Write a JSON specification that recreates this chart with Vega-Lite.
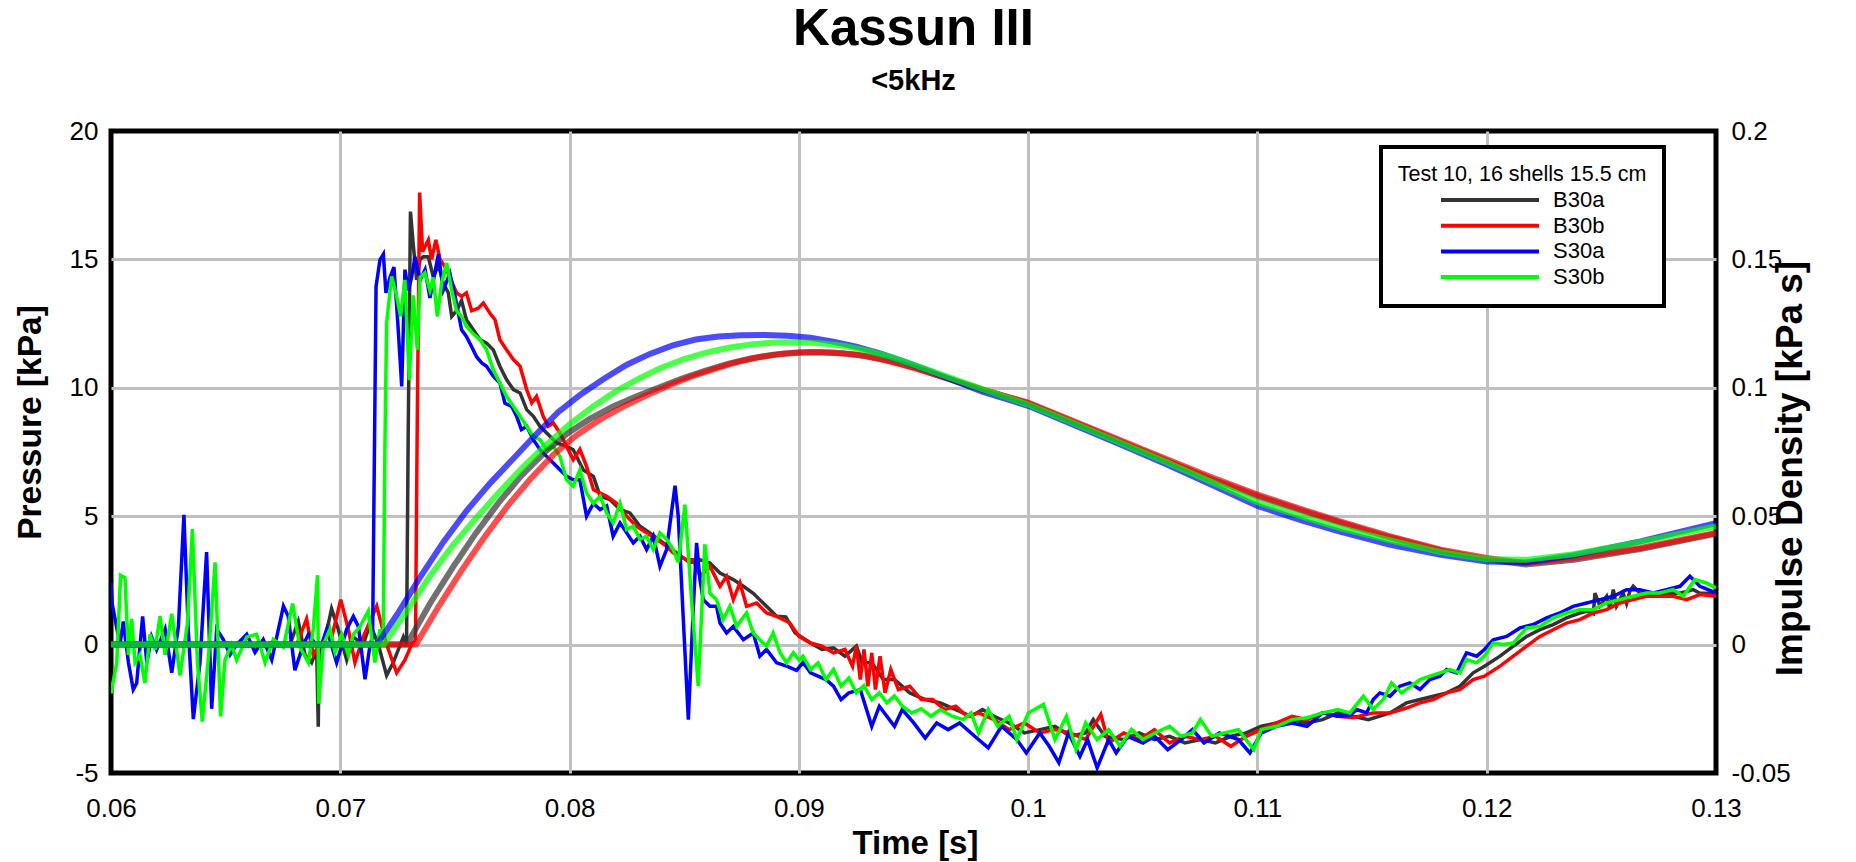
{
"$schema": "https://vega.github.io/schema/vega-lite/v6.json",
"width": 1605, "height": 642,
"autosize": {"type": "none"},
"padding": {"left": 111, "top": 131, "right": 140, "bottom": 89},
"background": "white",
"title": {"text": "Kassun III", "subtitle": "<5kHz", "anchor": "middle", "fontSize": 51, "fontWeight": "bold", "subtitleFontSize": 29, "subtitleFontWeight": "bold", "subtitlePadding": 11, "offset": 21, "color": "black", "subtitleColor": "black"},
"datasets": {
"pressure": [
{"s":"B30a","t":0.06,"p":0},{"s":"B30a","t":0.061,"p":0.05},{"s":"B30a","t":0.062,"p":-0.05},{"s":"B30a","t":0.063,"p":0.05},{"s":"B30a","t":0.064,"p":0},{"s":"B30a","t":0.065,"p":0.05},{"s":"B30a","t":0.066,"p":-0.05},{"s":"B30a","t":0.067,"p":0.05},{"s":"B30a","t":0.0678,"p":0},
{"s":"B30a","t":0.06817,"p":0.9},{"s":"B30a","t":0.06846,"p":-0.4},{"s":"B30a","t":0.06875,"p":-0.7},{"s":"B30a","t":0.06897,"p":-0.2},{"s":"B30a","t":0.06904,"p":-3.2},{"s":"B30a","t":0.06908,"p":-0.1},{"s":"B30a","t":0.06926,"p":-0.1},{"s":"B30a","t":0.06962,"p":1.4},{"s":"B30a","t":0.06991,"p":0.6},{"s":"B30a","t":0.07028,"p":-0.6},{"s":"B30a","t":0.07057,"p":0.3},{"s":"B30a","t":0.071,"p":0},{"s":"B30a","t":0.0713,"p":0.8},{"s":"B30a","t":0.07166,"p":0},{"s":"B30a","t":0.07202,"p":-1.2},{"s":"B30a","t":0.07231,"p":-0.7},{"s":"B30a","t":0.07275,"p":0.3},{"s":"B30a","t":0.07289,"p":0},
{"s":"B30a","t":0.07296,"p":8.0},{"s":"B30a","t":0.07306,"p":16.86},{"s":"B30a","t":0.07318,"p":15.6},{"s":"B30a","t":0.07333,"p":14.2},{"s":"B30a","t":0.07348,"p":15.0},{"s":"B30a","t":0.07362,"p":15.1},{"s":"B30a","t":0.07384,"p":15.1},{"s":"B30a","t":0.07406,"p":14.3},{"s":"B30a","t":0.07428,"p":14.8},{"s":"B30a","t":0.07449,"p":14.08},{"s":"B30a","t":0.07471,"p":13.7},{"s":"B30a","t":0.07486,"p":12.78},{"s":"B30a","t":0.07507,"p":13.0},{"s":"B30a","t":0.07529,"p":13.4},{"s":"B30a","t":0.0755,"p":12.65},{"s":"B30a","t":0.0758,"p":12.26},{"s":"B30a","t":0.0761,"p":11.87},{"s":"B30a","t":0.07638,"p":11.74},{"s":"B30a","t":0.07667,"p":11.48},{"s":"B30a","t":0.07696,"p":10.84},{"s":"B30a","t":0.07725,"p":10.32},{"s":"B30a","t":0.07755,"p":9.93},{"s":"B30a","t":0.07784,"p":9.8},{"s":"B30a","t":0.07813,"p":9.15},{"s":"B30a","t":0.07842,"p":8.89},{"s":"B30a","t":0.07871,"p":8.5},{"s":"B30a","t":0.079,"p":8.24},{"s":"B30a","t":0.07944,"p":7.85},{"s":"B30a","t":0.07987,"p":7.72},{"s":"B30a","t":0.08016,"p":7.59},{"s":"B30a","t":0.0806,"p":6.8},{"s":"B30a","t":0.08104,"p":6.55},{"s":"B30a","t":0.08133,"p":5.78},{"s":"B30a","t":0.08176,"p":5.65},{"s":"B30a","t":0.0822,"p":5.26},{"s":"B30a","t":0.08263,"p":5.13},{"s":"B30a","t":0.08307,"p":4.61},{"s":"B30a","t":0.0835,"p":4.35},{"s":"B30a","t":0.08409,"p":3.96},{"s":"B30a","t":0.08467,"p":3.57},{"s":"B30a","t":0.08525,"p":3.18},{"s":"B30a","t":0.08569,"p":3.3},{"s":"B30a","t":0.08612,"p":3.18},{"s":"B30a","t":0.08656,"p":2.79},{"s":"B30a","t":0.08714,"p":2.53},{"s":"B30a","t":0.08758,"p":2.27},{"s":"B30a","t":0.08801,"p":2.0},{"s":"B30a","t":0.08859,"p":1.49},{"s":"B30a","t":0.08903,"p":1.1},{"s":"B30a","t":0.08943,"p":1.08},{"s":"B30a","t":0.08984,"p":0.45},{"s":"B30a","t":0.09051,"p":0.06},{"s":"B30a","t":0.09101,"p":-0.19},{"s":"B30a","t":0.09151,"p":-0.13},{"s":"B30a","t":0.09201,"p":-0.45},{"s":"B30a","t":0.09251,"p":-0.06},{"s":"B30a","t":0.09276,"p":-0.71},{"s":"B30a","t":0.09318,"p":-0.71},{"s":"B30a","t":0.09368,"p":-1.36},{"s":"B30a","t":0.09417,"p":-1.36},{"s":"B30a","t":0.09484,"p":-1.88},{"s":"B30a","t":0.09551,"p":-2.14},{"s":"B30a","t":0.09617,"p":-2.27},{"s":"B30a","t":0.09684,"p":-2.53},{"s":"B30a","t":0.09751,"p":-2.79},{"s":"B30a","t":0.09801,"p":-2.53},{"s":"B30a","t":0.09851,"p":-2.79},{"s":"B30a","t":0.09917,"p":-3.05},{"s":"B30a","t":0.09984,"p":-3.44},{"s":"B30a","t":0.10051,"p":-3.31},{"s":"B30a","t":0.10117,"p":-3.18},{"s":"B30a","t":0.10184,"p":-3.57},{"s":"B30a","t":0.10251,"p":-3.44},{"s":"B30a","t":0.10284,"p":-2.92},{"s":"B30a","t":0.10334,"p":-3.57},{"s":"B30a","t":0.10417,"p":-3.7},{"s":"B30a","t":0.10484,"p":-3.44},{"s":"B30a","t":0.10551,"p":-3.7},{"s":"B30a","t":0.10617,"p":-3.57},{"s":"B30a","t":0.10684,"p":-3.83},{"s":"B30a","t":0.10751,"p":-3.7},{"s":"B30a","t":0.10817,"p":-3.83},{"s":"B30a","t":0.10884,"p":-3.57},{"s":"B30a","t":0.10951,"p":-3.44},{"s":"B30a","t":0.11017,"p":-3.18},{"s":"B30a","t":0.11084,"p":-3.05},{"s":"B30a","t":0.11151,"p":-2.92},{"s":"B30a","t":0.11217,"p":-3.05},{"s":"B30a","t":0.11284,"p":-2.92},{"s":"B30a","t":0.11351,"p":-2.66},{"s":"B30a","t":0.11417,"p":-2.79},{"s":"B30a","t":0.11484,"p":-2.92},{"s":"B30a","t":0.11578,"p":-2.66},{"s":"B30a","t":0.1165,"p":-2.27},{"s":"B30a","t":0.11709,"p":-2.14},{"s":"B30a","t":0.11767,"p":-2.01},{"s":"B30a","t":0.11825,"p":-1.88},{"s":"B30a","t":0.11883,"p":-1.62},{"s":"B30a","t":0.11941,"p":-1.1},{"s":"B30a","t":0.1199,"p":-0.84},{"s":"B30a","t":0.12058,"p":-0.45},{"s":"B30a","t":0.12116,"p":-0.06},{"s":"B30a","t":0.12174,"p":0.32},{"s":"B30a","t":0.12232,"p":0.58},{"s":"B30a","t":0.1229,"p":0.78},{"s":"B30a","t":0.12348,"p":1.04},{"s":"B30a","t":0.12406,"p":1.23},{"s":"B30a","t":0.12436,"p":1.3},{"s":"B30a","t":0.12465,"p":1.2},{"s":"B30a","t":0.12472,"p":2.0},{"s":"B30a","t":0.12494,"p":1.5},{"s":"B30a","t":0.12523,"p":1.88},{"s":"B30a","t":0.12537,"p":1.4},{"s":"B30a","t":0.12552,"p":2.14},{"s":"B30a","t":0.12566,"p":1.5},{"s":"B30a","t":0.12595,"p":2.0},{"s":"B30a","t":0.1261,"p":1.6},{"s":"B30a","t":0.12625,"p":2.1},{"s":"B30a","t":0.12639,"p":2.27},{"s":"B30a","t":0.12668,"p":2.01},{"s":"B30a","t":0.12726,"p":1.88},{"s":"B30a","t":0.12784,"p":2.01},{"s":"B30a","t":0.12843,"p":2.0},{"s":"B30a","t":0.12901,"p":2.14},{"s":"B30a","t":0.1293,"p":2.0},{"s":"B30a","t":0.13,"p":2.0},
{"s":"B30b","t":0.06,"p":0},{"s":"B30b","t":0.061,"p":-0.05},{"s":"B30b","t":0.062,"p":0.05},{"s":"B30b","t":0.063,"p":0},{"s":"B30b","t":0.064,"p":-0.05},{"s":"B30b","t":0.065,"p":0.05},{"s":"B30b","t":0.066,"p":0},{"s":"B30b","t":0.067,"p":-0.05},{"s":"B30b","t":0.0681,"p":0},{"s":"B30b","t":0.06853,"p":1.0},{"s":"B30b","t":0.06882,"p":-0.4},{"s":"B30b","t":0.06911,"p":0},{"s":"B30b","t":0.06955,"p":0},{"s":"B30b","t":0.07002,"p":1.75},{"s":"B30b","t":0.07035,"p":0.6},{"s":"B30b","t":0.07064,"p":-0.7},{"s":"B30b","t":0.071,"p":0.3},{"s":"B30b","t":0.07159,"p":1.5},{"s":"B30b","t":0.07202,"p":0},{"s":"B30b","t":0.07246,"p":-1.1},{"s":"B30b","t":0.07282,"p":-0.6},{"s":"B30b","t":0.07311,"p":0},{"s":"B30b","t":0.07328,"p":0.2},
{"s":"B30b","t":0.07336,"p":9.0},{"s":"B30b","t":0.07346,"p":17.6},{"s":"B30b","t":0.07359,"p":15.3},{"s":"B30b","t":0.07384,"p":15.76},{"s":"B30b","t":0.07398,"p":15.0},{"s":"B30b","t":0.07417,"p":15.76},{"s":"B30b","t":0.07435,"p":15.0},{"s":"B30b","t":0.07457,"p":14.7},{"s":"B30b","t":0.07478,"p":14.3},{"s":"B30b","t":0.07507,"p":13.7},{"s":"B30b","t":0.07529,"p":13.56},{"s":"B30b","t":0.0755,"p":13.7},{"s":"B30b","t":0.07573,"p":13.0},{"s":"B30b","t":0.07602,"p":13.1},{"s":"B30b","t":0.07624,"p":13.3},{"s":"B30b","t":0.07653,"p":12.9},{"s":"B30b","t":0.07675,"p":12.65},{"s":"B30b","t":0.07696,"p":11.87},{"s":"B30b","t":0.07725,"p":11.48},{"s":"B30b","t":0.07755,"p":11.1},{"s":"B30b","t":0.07784,"p":10.84},{"s":"B30b","t":0.07813,"p":9.93},{"s":"B30b","t":0.07835,"p":9.41},{"s":"B30b","t":0.07856,"p":9.67},{"s":"B30b","t":0.07885,"p":8.89},{"s":"B30b","t":0.07907,"p":8.5},{"s":"B30b","t":0.07929,"p":8.63},{"s":"B30b","t":0.07958,"p":8.24},{"s":"B30b","t":0.07987,"p":7.72},{"s":"B30b","t":0.08016,"p":7.2},{"s":"B30b","t":0.08045,"p":7.6},{"s":"B30b","t":0.08074,"p":6.94},{"s":"B30b","t":0.08104,"p":6.04},{"s":"B30b","t":0.08133,"p":5.9},{"s":"B30b","t":0.08162,"p":5.78},{"s":"B30b","t":0.08205,"p":5.5},{"s":"B30b","t":0.08249,"p":5.0},{"s":"B30b","t":0.08292,"p":4.6},{"s":"B30b","t":0.08336,"p":4.35},{"s":"B30b","t":0.0838,"p":4.1},{"s":"B30b","t":0.08423,"p":3.83},{"s":"B30b","t":0.08452,"p":3.57},{"s":"B30b","t":0.08511,"p":3.3},{"s":"B30b","t":0.0854,"p":3.3},{"s":"B30b","t":0.08569,"p":2.66},{"s":"B30b","t":0.08612,"p":3.05},{"s":"B30b","t":0.08656,"p":2.27},{"s":"B30b","t":0.08685,"p":2.66},{"s":"B30b","t":0.08714,"p":1.75},{"s":"B30b","t":0.08743,"p":2.4},{"s":"B30b","t":0.08772,"p":1.49},{"s":"B30b","t":0.08816,"p":1.62},{"s":"B30b","t":0.08859,"p":1.23},{"s":"B30b","t":0.08903,"p":1.1},{"s":"B30b","t":0.0896,"p":0.85},{"s":"B30b","t":0.09001,"p":0.32},{"s":"B30b","t":0.09051,"p":0.06},{"s":"B30b","t":0.09101,"p":-0.06},{"s":"B30b","t":0.09151,"p":-0.32},{"s":"B30b","t":0.09201,"p":-0.19},{"s":"B30b","t":0.09234,"p":-0.84},{"s":"B30b","t":0.09251,"p":-0.06},{"s":"B30b","t":0.09268,"p":-1.36},{"s":"B30b","t":0.09284,"p":-0.19},{"s":"B30b","t":0.09301,"p":-1.62},{"s":"B30b","t":0.09318,"p":-0.32},{"s":"B30b","t":0.09334,"p":-1.75},{"s":"B30b","t":0.09354,"p":-0.45},{"s":"B30b","t":0.09376,"p":-1.88},{"s":"B30b","t":0.09401,"p":-0.97},{"s":"B30b","t":0.09434,"p":-1.75},{"s":"B30b","t":0.09484,"p":-1.62},{"s":"B30b","t":0.09534,"p":-2.14},{"s":"B30b","t":0.09584,"p":-2.14},{"s":"B30b","t":0.09634,"p":-2.53},{"s":"B30b","t":0.09684,"p":-2.4},{"s":"B30b","t":0.09734,"p":-2.79},{"s":"B30b","t":0.09784,"p":-2.66},{"s":"B30b","t":0.09851,"p":-2.92},{"s":"B30b","t":0.09917,"p":-3.31},{"s":"B30b","t":0.09984,"p":-3.05},{"s":"B30b","t":0.10051,"p":-3.44},{"s":"B30b","t":0.10117,"p":-3.31},{"s":"B30b","t":0.10184,"p":-3.44},{"s":"B30b","t":0.10251,"p":-3.7},{"s":"B30b","t":0.10317,"p":-2.72},{"s":"B30b","t":0.10351,"p":-3.83},{"s":"B30b","t":0.10417,"p":-3.44},{"s":"B30b","t":0.10484,"p":-3.7},{"s":"B30b","t":0.10551,"p":-3.31},{"s":"B30b","t":0.10617,"p":-3.83},{"s":"B30b","t":0.10684,"p":-3.57},{"s":"B30b","t":0.10751,"p":-3.7},{"s":"B30b","t":0.10817,"p":-3.57},{"s":"B30b","t":0.10884,"p":-3.96},{"s":"B30b","t":0.10951,"p":-3.57},{"s":"B30b","t":0.11017,"p":-3.31},{"s":"B30b","t":0.11084,"p":-3.05},{"s":"B30b","t":0.11151,"p":-2.79},{"s":"B30b","t":0.11217,"p":-2.92},{"s":"B30b","t":0.11284,"p":-2.66},{"s":"B30b","t":0.11351,"p":-2.79},{"s":"B30b","t":0.11417,"p":-2.85},{"s":"B30b","t":0.11505,"p":-2.66},{"s":"B30b","t":0.11578,"p":-2.66},{"s":"B30b","t":0.1165,"p":-2.47},{"s":"B30b","t":0.11709,"p":-2.27},{"s":"B30b","t":0.11767,"p":-2.14},{"s":"B30b","t":0.11825,"p":-1.88},{"s":"B30b","t":0.11883,"p":-1.75},{"s":"B30b","t":0.11941,"p":-1.36},{"s":"B30b","t":0.1199,"p":-1.23},{"s":"B30b","t":0.12058,"p":-0.84},{"s":"B30b","t":0.12116,"p":-0.45},{"s":"B30b","t":0.12174,"p":-0.06},{"s":"B30b","t":0.12232,"p":0.32},{"s":"B30b","t":0.1229,"p":0.58},{"s":"B30b","t":0.12348,"p":0.84},{"s":"B30b","t":0.12406,"p":0.97},{"s":"B30b","t":0.12465,"p":1.23},{"s":"B30b","t":0.12523,"p":1.36},{"s":"B30b","t":0.12581,"p":1.62},{"s":"B30b","t":0.12639,"p":1.75},{"s":"B30b","t":0.12697,"p":1.88},{"s":"B30b","t":0.12755,"p":1.88},{"s":"B30b","t":0.12813,"p":1.88},{"s":"B30b","t":0.12872,"p":1.75},{"s":"B30b","t":0.1293,"p":1.95},{"s":"B30b","t":0.13,"p":1.88},
{"s":"S30a","t":0.06,"p":2.4},{"s":"S30a","t":0.06005,"p":1.6},{"s":"S30a","t":0.06039,"p":0},{"s":"S30a","t":0.06054,"p":0.9},{"s":"S30a","t":0.06076,"p":-0.7},{"s":"S30a","t":0.06097,"p":-1.75},{"s":"S30a","t":0.06112,"p":-1.5},{"s":"S30a","t":0.06138,"p":1.1},{"s":"S30a","t":0.06156,"p":-0.7},{"s":"S30a","t":0.06177,"p":0.3},{"s":"S30a","t":0.06199,"p":-0.2},{"s":"S30a","t":0.06236,"p":0.6},{"s":"S30a","t":0.06265,"p":-1.1},{"s":"S30a","t":0.06294,"p":0.7},{"s":"S30a","t":0.06318,"p":5.05},{"s":"S30a","t":0.06337,"p":0.6},{"s":"S30a","t":0.06359,"p":-2.9},{"s":"S30a","t":0.06388,"p":-0.7},{"s":"S30a","t":0.06417,"p":3.6},{"s":"S30a","t":0.06439,"p":-2.5},{"s":"S30a","t":0.06461,"p":0.6},{"s":"S30a","t":0.0649,"p":0.2},{"s":"S30a","t":0.06519,"p":-0.4},{"s":"S30a","t":0.06548,"p":0},{"s":"S30a","t":0.06592,"p":0.4},{"s":"S30a","t":0.06628,"p":-0.3},{"s":"S30a","t":0.06664,"p":0.2},{"s":"S30a","t":0.06701,"p":-0.6},{"s":"S30a","t":0.06752,"p":1.5},{"s":"S30a","t":0.06773,"p":1.1},{"s":"S30a","t":0.06802,"p":-1.0},{"s":"S30a","t":0.06839,"p":0},{"s":"S30a","t":0.06861,"p":0.4},{"s":"S30a","t":0.06911,"p":-0.2},{"s":"S30a","t":0.06941,"p":0.6},{"s":"S30a","t":0.06984,"p":-0.7},{"s":"S30a","t":0.07028,"p":0.6},{"s":"S30a","t":0.07057,"p":1.1},{"s":"S30a","t":0.07079,"p":0.7},{"s":"S30a","t":0.07108,"p":-1.35},{"s":"S30a","t":0.0713,"p":0},{"s":"S30a","t":0.07141,"p":0.3},
{"s":"S30a","t":0.07156,"p":13.94},{"s":"S30a","t":0.07173,"p":14.98},{"s":"S30a","t":0.07188,"p":15.2},{"s":"S30a","t":0.07199,"p":13.7},{"s":"S30a","t":0.07217,"p":14.3},{"s":"S30a","t":0.07234,"p":14.7},{"s":"S30a","t":0.0725,"p":12.65},{"s":"S30a","t":0.07268,"p":10.05},{"s":"S30a","t":0.07282,"p":14.6},{"s":"S30a","t":0.07297,"p":13.8},{"s":"S30a","t":0.07311,"p":14.3},{"s":"S30a","t":0.07326,"p":15.1},{"s":"S30a","t":0.07348,"p":14.2},{"s":"S30a","t":0.0737,"p":14.6},{"s":"S30a","t":0.07391,"p":13.5},{"s":"S30a","t":0.07428,"p":15.2},{"s":"S30a","t":0.07449,"p":13.8},{"s":"S30a","t":0.07478,"p":14.45},{"s":"S30a","t":0.075,"p":13.6},{"s":"S30a","t":0.07529,"p":12.26},{"s":"S30a","t":0.0755,"p":12.0},{"s":"S30a","t":0.07573,"p":11.6},{"s":"S30a","t":0.07595,"p":11.2},{"s":"S30a","t":0.07617,"p":10.97},{"s":"S30a","t":0.07638,"p":10.84},{"s":"S30a","t":0.07667,"p":10.45},{"s":"S30a","t":0.07696,"p":10.19},{"s":"S30a","t":0.07718,"p":9.4},{"s":"S30a","t":0.07747,"p":9.28},{"s":"S30a","t":0.07769,"p":8.89},{"s":"S30a","t":0.0779,"p":8.37},{"s":"S30a","t":0.07813,"p":8.5},{"s":"S30a","t":0.07842,"p":7.98},{"s":"S30a","t":0.07871,"p":7.59},{"s":"S30a","t":0.079,"p":7.33},{"s":"S30a","t":0.07929,"p":7.07},{"s":"S30a","t":0.07958,"p":6.81},{"s":"S30a","t":0.07987,"p":6.55},{"s":"S30a","t":0.08016,"p":6.42},{"s":"S30a","t":0.08045,"p":6.42},{"s":"S30a","t":0.08074,"p":5.0},{"s":"S30a","t":0.08104,"p":5.5},{"s":"S30a","t":0.08133,"p":5.26},{"s":"S30a","t":0.08162,"p":5.4},{"s":"S30a","t":0.0819,"p":4.22},{"s":"S30a","t":0.0822,"p":4.74},{"s":"S30a","t":0.08249,"p":4.35},{"s":"S30a","t":0.08278,"p":3.96},{"s":"S30a","t":0.08307,"p":4.22},{"s":"S30a","t":0.08336,"p":3.7},{"s":"S30a","t":0.08365,"p":4.22},{"s":"S30a","t":0.08394,"p":3.05},{"s":"S30a","t":0.08423,"p":3.7},{"s":"S30a","t":0.0846,"p":6.19},{"s":"S30a","t":0.08474,"p":5.0},{"s":"S30a","t":0.08496,"p":1.0},{"s":"S30a","t":0.08518,"p":-2.92},{"s":"S30a","t":0.0854,"p":1.5},{"s":"S30a","t":0.08554,"p":3.96},{"s":"S30a","t":0.08569,"p":2.5},{"s":"S30a","t":0.08583,"p":1.75},{"s":"S30a","t":0.08612,"p":1.49},{"s":"S30a","t":0.08641,"p":1.49},{"s":"S30a","t":0.08656,"p":0.84},{"s":"S30a","t":0.08685,"p":0.45},{"s":"S30a","t":0.08714,"p":0.71},{"s":"S30a","t":0.08758,"p":0.19},{"s":"S30a","t":0.08801,"p":0.45},{"s":"S30a","t":0.0883,"p":-0.45},{"s":"S30a","t":0.08859,"p":-0.19},{"s":"S30a","t":0.08903,"p":-0.71},{"s":"S30a","t":0.08947,"p":-0.84},{"s":"S30a","t":0.0899,"p":-1.0},{"s":"S30a","t":0.09018,"p":-0.7},{"s":"S30a","t":0.09051,"p":-1.1},{"s":"S30a","t":0.09118,"p":-1.36},{"s":"S30a","t":0.09151,"p":-1.62},{"s":"S30a","t":0.09184,"p":-2.14},{"s":"S30a","t":0.09218,"p":-1.88},{"s":"S30a","t":0.09268,"p":-1.75},{"s":"S30a","t":0.09318,"p":-3.18},{"s":"S30a","t":0.09351,"p":-2.4},{"s":"S30a","t":0.09417,"p":-3.18},{"s":"S30a","t":0.09451,"p":-2.53},{"s":"S30a","t":0.09501,"p":-3.05},{"s":"S30a","t":0.09551,"p":-3.64},{"s":"S30a","t":0.09601,"p":-3.05},{"s":"S30a","t":0.09651,"p":-3.31},{"s":"S30a","t":0.09701,"p":-3.05},{"s":"S30a","t":0.09767,"p":-3.57},{"s":"S30a","t":0.09826,"p":-4.02},{"s":"S30a","t":0.09884,"p":-3.18},{"s":"S30a","t":0.09951,"p":-3.7},{"s":"S30a","t":0.09992,"p":-4.22},{"s":"S30a","t":0.10051,"p":-3.44},{"s":"S30a","t":0.10092,"p":-3.96},{"s":"S30a","t":0.10134,"p":-4.6},{"s":"S30a","t":0.10176,"p":-3.44},{"s":"S30a","t":0.10226,"p":-4.35},{"s":"S30a","t":0.10259,"p":-3.7},{"s":"S30a","t":0.10301,"p":-4.8},{"s":"S30a","t":0.10351,"p":-3.7},{"s":"S30a","t":0.10384,"p":-4.22},{"s":"S30a","t":0.10434,"p":-3.57},{"s":"S30a","t":0.10501,"p":-3.83},{"s":"S30a","t":0.10551,"p":-3.57},{"s":"S30a","t":0.10609,"p":-4.09},{"s":"S30a","t":0.10667,"p":-3.7},{"s":"S30a","t":0.10717,"p":-3.31},{"s":"S30a","t":0.10767,"p":-3.83},{"s":"S30a","t":0.10834,"p":-3.44},{"s":"S30a","t":0.10917,"p":-3.7},{"s":"S30a","t":0.10967,"p":-4.22},{"s":"S30a","t":0.11017,"p":-3.44},{"s":"S30a","t":0.11084,"p":-3.18},{"s":"S30a","t":0.11151,"p":-3.05},{"s":"S30a","t":0.11217,"p":-3.18},{"s":"S30a","t":0.11284,"p":-2.66},{"s":"S30a","t":0.11351,"p":-2.79},{"s":"S30a","t":0.11403,"p":-2.75},{"s":"S30a","t":0.11433,"p":-2.53},{"s":"S30a","t":0.11476,"p":-2.66},{"s":"S30a","t":0.11505,"p":-2.14},{"s":"S30a","t":0.11534,"p":-1.88},{"s":"S30a","t":0.11578,"p":-2.01},{"s":"S30a","t":0.11621,"p":-1.62},{"s":"S30a","t":0.11665,"p":-1.49},{"s":"S30a","t":0.11709,"p":-1.75},{"s":"S30a","t":0.11752,"p":-1.36},{"s":"S30a","t":0.11796,"p":-1.23},{"s":"S30a","t":0.11825,"p":-0.97},{"s":"S30a","t":0.11869,"p":-1.1},{"s":"S30a","t":0.11912,"p":-0.32},{"s":"S30a","t":0.11956,"p":-0.45},{"s":"S30a","t":0.1199,"p":-0.19},{"s":"S30a","t":0.12028,"p":0.19},{"s":"S30a","t":0.12087,"p":0.32},{"s":"S30a","t":0.12145,"p":0.65},{"s":"S30a","t":0.12203,"p":0.78},{"s":"S30a","t":0.12261,"p":1.04},{"s":"S30a","t":0.12319,"p":1.23},{"s":"S30a","t":0.12377,"p":1.49},{"s":"S30a","t":0.12436,"p":1.62},{"s":"S30a","t":0.12494,"p":1.75},{"s":"S30a","t":0.12552,"p":1.88},{"s":"S30a","t":0.1261,"p":2.14},{"s":"S30a","t":0.12668,"p":2.14},{"s":"S30a","t":0.12726,"p":2.01},{"s":"S30a","t":0.12784,"p":2.14},{"s":"S30a","t":0.12843,"p":2.27},{"s":"S30a","t":0.12886,"p":2.66},{"s":"S30a","t":0.1293,"p":2.27},{"s":"S30a","t":0.13,"p":2.01},
{"s":"S30b","t":0.06,"p":-1.9},{"s":"S30b","t":0.06025,"p":-0.7},{"s":"S30b","t":0.06042,"p":2.7},{"s":"S30b","t":0.06061,"p":2.6},{"s":"S30b","t":0.06076,"p":-0.4},{"s":"S30b","t":0.0609,"p":1.0},{"s":"S30b","t":0.06105,"p":-0.7},{"s":"S30b","t":0.06126,"p":-0.4},{"s":"S30b","t":0.06148,"p":-1.5},{"s":"S30b","t":0.0617,"p":0.4},{"s":"S30b","t":0.06192,"p":-0.2},{"s":"S30b","t":0.06214,"p":1.1},{"s":"S30b","t":0.06236,"p":-0.4},{"s":"S30b","t":0.06265,"p":1.2},{"s":"S30b","t":0.06301,"p":-1.2},{"s":"S30b","t":0.06333,"p":0.8},{"s":"S30b","t":0.06355,"p":4.5},{"s":"S30b","t":0.06377,"p":-0.7},{"s":"S30b","t":0.06398,"p":-3.0},{"s":"S30b","t":0.06424,"p":-0.6},{"s":"S30b","t":0.06454,"p":3.2},{"s":"S30b","t":0.06478,"p":-2.8},{"s":"S30b","t":0.06497,"p":-0.6},{"s":"S30b","t":0.06526,"p":0},{"s":"S30b","t":0.06548,"p":-0.6},{"s":"S30b","t":0.06592,"p":0.3},{"s":"S30b","t":0.06635,"p":0.4},{"s":"S30b","t":0.06672,"p":-0.7},{"s":"S30b","t":0.06708,"p":0.2},{"s":"S30b","t":0.06752,"p":-0.1},{"s":"S30b","t":0.06792,"p":1.6},{"s":"S30b","t":0.06824,"p":-0.1},{"s":"S30b","t":0.06861,"p":-0.7},{"s":"S30b","t":0.06882,"p":0.6},{"s":"S30b","t":0.06901,"p":2.7},{"s":"S30b","t":0.06906,"p":-2.3},{"s":"S30b","t":0.06926,"p":0},{"s":"S30b","t":0.06955,"p":0.6},{"s":"S30b","t":0.06977,"p":-0.3},{"s":"S30b","t":0.07006,"p":0.4},{"s":"S30b","t":0.07035,"p":-0.4},{"s":"S30b","t":0.07057,"p":0.4},{"s":"S30b","t":0.07086,"p":0.7},{"s":"S30b","t":0.07122,"p":1.3},{"s":"S30b","t":0.07151,"p":-0.7},{"s":"S30b","t":0.07173,"p":0.6},{"s":"S30b","t":0.07187,"p":0.2},
{"s":"S30b","t":0.07195,"p":8.0},{"s":"S30b","t":0.07202,"p":12.5},{"s":"S30b","t":0.07224,"p":14.34},{"s":"S30b","t":0.07246,"p":13.56},{"s":"S30b","t":0.07263,"p":12.78},{"s":"S30b","t":0.07282,"p":14.2},{"s":"S30b","t":0.07301,"p":10.3},{"s":"S30b","t":0.07318,"p":13.6},{"s":"S30b","t":0.07336,"p":11.48},{"s":"S30b","t":0.07348,"p":14.3},{"s":"S30b","t":0.07369,"p":14.47},{"s":"S30b","t":0.07391,"p":13.8},{"s":"S30b","t":0.07406,"p":14.3},{"s":"S30b","t":0.07423,"p":12.78},{"s":"S30b","t":0.07442,"p":14.08},{"s":"S30b","t":0.07464,"p":14.86},{"s":"S30b","t":0.07486,"p":13.8},{"s":"S30b","t":0.07507,"p":13.0},{"s":"S30b","t":0.07529,"p":12.78},{"s":"S30b","t":0.0755,"p":12.4},{"s":"S30b","t":0.0758,"p":12.1},{"s":"S30b","t":0.0761,"p":11.87},{"s":"S30b","t":0.07638,"p":11.48},{"s":"S30b","t":0.07667,"p":10.7},{"s":"S30b","t":0.07696,"p":10.2},{"s":"S30b","t":0.07725,"p":9.67},{"s":"S30b","t":0.07755,"p":9.28},{"s":"S30b","t":0.07784,"p":8.89},{"s":"S30b","t":0.07813,"p":8.5},{"s":"S30b","t":0.07842,"p":8.1},{"s":"S30b","t":0.07871,"p":7.98},{"s":"S30b","t":0.079,"p":7.59},{"s":"S30b","t":0.07929,"p":7.72},{"s":"S30b","t":0.07958,"p":7.33},{"s":"S30b","t":0.07987,"p":6.42},{"s":"S30b","t":0.08016,"p":6.17},{"s":"S30b","t":0.08045,"p":6.8},{"s":"S30b","t":0.08074,"p":5.9},{"s":"S30b","t":0.08104,"p":5.5},{"s":"S30b","t":0.08133,"p":5.78},{"s":"S30b","t":0.08162,"p":5.13},{"s":"S30b","t":0.0819,"p":4.74},{"s":"S30b","t":0.0822,"p":5.5},{"s":"S30b","t":0.08249,"p":4.48},{"s":"S30b","t":0.08278,"p":4.61},{"s":"S30b","t":0.08307,"p":4.1},{"s":"S30b","t":0.08336,"p":4.22},{"s":"S30b","t":0.08365,"p":3.7},{"s":"S30b","t":0.08394,"p":4.35},{"s":"S30b","t":0.08423,"p":4.1},{"s":"S30b","t":0.08452,"p":3.7},{"s":"S30b","t":0.08474,"p":3.2},{"s":"S30b","t":0.08503,"p":5.45},{"s":"S30b","t":0.0853,"p":2.0},{"s":"S30b","t":0.08561,"p":-1.62},{"s":"S30b","t":0.0859,"p":3.9},{"s":"S30b","t":0.08612,"p":2.0},{"s":"S30b","t":0.08641,"p":1.75},{"s":"S30b","t":0.0867,"p":0.97},{"s":"S30b","t":0.08699,"p":1.49},{"s":"S30b","t":0.08729,"p":0.71},{"s":"S30b","t":0.08772,"p":1.23},{"s":"S30b","t":0.08801,"p":0.45},{"s":"S30b","t":0.0883,"p":0.19},{"s":"S30b","t":0.08859,"p":-0.06},{"s":"S30b","t":0.08888,"p":0.45},{"s":"S30b","t":0.08918,"p":-0.32},{"s":"S30b","t":0.08947,"p":-0.71},{"s":"S30b","t":0.08976,"p":-0.32},{"s":"S30b","t":0.09001,"p":-0.6},{"s":"S30b","t":0.09018,"p":-0.45},{"s":"S30b","t":0.09051,"p":-0.97},{"s":"S30b","t":0.09084,"p":-0.71},{"s":"S30b","t":0.09118,"p":-1.36},{"s":"S30b","t":0.09151,"p":-0.97},{"s":"S30b","t":0.09184,"p":-1.62},{"s":"S30b","t":0.09218,"p":-1.3},{"s":"S30b","t":0.09251,"p":-1.88},{"s":"S30b","t":0.09284,"p":-1.6},{"s":"S30b","t":0.09318,"p":-2.14},{"s":"S30b","t":0.09351,"p":-1.88},{"s":"S30b","t":0.09384,"p":-2.27},{"s":"S30b","t":0.09417,"p":-2.0},{"s":"S30b","t":0.09451,"p":-2.4},{"s":"S30b","t":0.09493,"p":-2.66},{"s":"S30b","t":0.09534,"p":-2.5},{"s":"S30b","t":0.09576,"p":-2.79},{"s":"S30b","t":0.09617,"p":-2.53},{"s":"S30b","t":0.09668,"p":-2.79},{"s":"S30b","t":0.09717,"p":-2.92},{"s":"S30b","t":0.09751,"p":-2.66},{"s":"S30b","t":0.09784,"p":-3.44},{"s":"S30b","t":0.09826,"p":-2.53},{"s":"S30b","t":0.09867,"p":-3.18},{"s":"S30b","t":0.09917,"p":-2.79},{"s":"S30b","t":0.09951,"p":-3.7},{"s":"S30b","t":0.10001,"p":-2.66},{"s":"S30b","t":0.10067,"p":-2.33},{"s":"S30b","t":0.10117,"p":-3.7},{"s":"S30b","t":0.10167,"p":-2.79},{"s":"S30b","t":0.10209,"p":-4.09},{"s":"S30b","t":0.10251,"p":-3.05},{"s":"S30b","t":0.10301,"p":-3.7},{"s":"S30b","t":0.10351,"p":-3.31},{"s":"S30b","t":0.10401,"p":-3.96},{"s":"S30b","t":0.10451,"p":-3.3},{"s":"S30b","t":0.10501,"p":-3.7},{"s":"S30b","t":0.10551,"p":-3.45},{"s":"S30b","t":0.10617,"p":-3.18},{"s":"S30b","t":0.10667,"p":-3.57},{"s":"S30b","t":0.10717,"p":-3.44},{"s":"S30b","t":0.10751,"p":-2.92},{"s":"S30b","t":0.10801,"p":-3.57},{"s":"S30b","t":0.10851,"p":-3.45},{"s":"S30b","t":0.10917,"p":-3.31},{"s":"S30b","t":0.10984,"p":-4.09},{"s":"S30b","t":0.11017,"p":-3.31},{"s":"S30b","t":0.11084,"p":-3.18},{"s":"S30b","t":0.11151,"p":-2.92},{"s":"S30b","t":0.11217,"p":-2.85},{"s":"S30b","t":0.11284,"p":-2.66},{"s":"S30b","t":0.11351,"p":-2.53},{"s":"S30b","t":0.11403,"p":-2.66},{"s":"S30b","t":0.11462,"p":-2.01},{"s":"S30b","t":0.11505,"p":-2.53},{"s":"S30b","t":0.11549,"p":-2.14},{"s":"S30b","t":0.11585,"p":-1.49},{"s":"S30b","t":0.11629,"p":-1.88},{"s":"S30b","t":0.11672,"p":-1.6},{"s":"S30b","t":0.11709,"p":-1.36},{"s":"S30b","t":0.11752,"p":-1.23},{"s":"S30b","t":0.11796,"p":-1.1},{"s":"S30b","t":0.11839,"p":-0.97},{"s":"S30b","t":0.11883,"p":-1.1},{"s":"S30b","t":0.11912,"p":-0.58},{"s":"S30b","t":0.11956,"p":-0.71},{"s":"S30b","t":0.1199,"p":-0.45},{"s":"S30b","t":0.12028,"p":0.06},{"s":"S30b","t":0.12072,"p":0},{"s":"S30b","t":0.12116,"p":0.06},{"s":"S30b","t":0.12174,"p":0.65},{"s":"S30b","t":0.12232,"p":0.71},{"s":"S30b","t":0.1229,"p":1.04},{"s":"S30b","t":0.12348,"p":1.23},{"s":"S30b","t":0.12406,"p":1.36},{"s":"S30b","t":0.12465,"p":1.36},{"s":"S30b","t":0.12523,"p":1.62},{"s":"S30b","t":0.12581,"p":1.75},{"s":"S30b","t":0.12639,"p":1.88},{"s":"S30b","t":0.12697,"p":2.01},{"s":"S30b","t":0.12755,"p":2.01},{"s":"S30b","t":0.12813,"p":2.14},{"s":"S30b","t":0.12857,"p":1.88},{"s":"S30b","t":0.12908,"p":2.53},{"s":"S30b","t":0.12959,"p":2.4},{"s":"S30b","t":0.13,"p":2.2}
],
"impulse": [
{"s":"B30a","t":0.06,"i":0},{"s":"B30a","t":0.0729,"i":0},{"s":"B30a","t":0.0739,"i":0.0158},{"s":"B30a","t":0.0749,"i":0.03},{"s":"B30a","t":0.0759,"i":0.0432},{"s":"B30a","t":0.0769,"i":0.0552},{"s":"B30a","t":0.0779,"i":0.0658},{"s":"B30a","t":0.0789,"i":0.0748},{"s":"B30a","t":0.0799,"i":0.0822},{"s":"B30a","t":0.0809,"i":0.088},{"s":"B30a","t":0.0819,"i":0.0927},{"s":"B30a","t":0.0829,"i":0.0966},{"s":"B30a","t":0.0839,"i":0.1001},{"s":"B30a","t":0.0849,"i":0.1036},{"s":"B30a","t":0.0859,"i":0.1066},{"s":"B30a","t":0.0869,"i":0.1093},{"s":"B30a","t":0.0879,"i":0.1114},{"s":"B30a","t":0.0889,"i":0.1129},{"s":"B30a","t":0.0899,"i":0.1137},{"s":"B30a","t":0.0909,"i":0.1138},{"s":"B30a","t":0.0919,"i":0.1134},{"s":"B30a","t":0.0929,"i":0.1124},{"s":"B30a","t":0.0939,"i":0.1106},{"s":"B30a","t":0.095,"i":0.108},{"s":"B30a","t":0.096,"i":0.105},{"s":"B30a","t":0.098,"i":0.0993},{"s":"B30a","t":0.1,"i":0.094},{"s":"B30a","t":0.102,"i":0.0866},{"s":"B30a","t":0.104,"i":0.0792},{"s":"B30a","t":0.106,"i":0.0718},{"s":"B30a","t":0.108,"i":0.0645},{"s":"B30a","t":0.11,"i":0.0578},{"s":"B30a","t":0.112,"i":0.052},{"s":"B30a","t":0.1136,"i":0.0475},{"s":"B30a","t":0.1158,"i":0.0417},{"s":"B30a","t":0.118,"i":0.0366},{"s":"B30a","t":0.12,"i":0.0332},{"s":"B30a","t":0.1217,"i":0.0312},{"s":"B30a","t":0.1238,"i":0.033},{"s":"B30a","t":0.1267,"i":0.0372},{"s":"B30a","t":0.13,"i":0.0432},
{"s":"B30b","t":0.06,"i":0},{"s":"B30b","t":0.0733,"i":0},{"s":"B30b","t":0.0743,"i":0.015},{"s":"B30b","t":0.0753,"i":0.029},{"s":"B30b","t":0.0763,"i":0.042},{"s":"B30b","t":0.0773,"i":0.054},{"s":"B30b","t":0.0783,"i":0.0646},{"s":"B30b","t":0.0793,"i":0.074},{"s":"B30b","t":0.0803,"i":0.0815},{"s":"B30b","t":0.0813,"i":0.0875},{"s":"B30b","t":0.0823,"i":0.0925},{"s":"B30b","t":0.0833,"i":0.0968},{"s":"B30b","t":0.0843,"i":0.1008},{"s":"B30b","t":0.0853,"i":0.1043},{"s":"B30b","t":0.0863,"i":0.1073},{"s":"B30b","t":0.0873,"i":0.11},{"s":"B30b","t":0.0883,"i":0.112},{"s":"B30b","t":0.0893,"i":0.1133},{"s":"B30b","t":0.0905,"i":0.1139},{"s":"B30b","t":0.0915,"i":0.1137},{"s":"B30b","t":0.0925,"i":0.113},{"s":"B30b","t":0.0935,"i":0.1113},{"s":"B30b","t":0.0945,"i":0.109},{"s":"B30b","t":0.0955,"i":0.1064},{"s":"B30b","t":0.0965,"i":0.1036},{"s":"B30b","t":0.098,"i":0.0993},{"s":"B30b","t":0.1,"i":0.0942},{"s":"B30b","t":0.102,"i":0.087},{"s":"B30b","t":0.104,"i":0.0797},{"s":"B30b","t":0.106,"i":0.0724},{"s":"B30b","t":0.108,"i":0.0652},{"s":"B30b","t":0.11,"i":0.0584},{"s":"B30b","t":0.112,"i":0.0525},{"s":"B30b","t":0.1136,"i":0.048},{"s":"B30b","t":0.1158,"i":0.0421},{"s":"B30b","t":0.118,"i":0.037},{"s":"B30b","t":0.12,"i":0.0337},{"s":"B30b","t":0.1217,"i":0.0318},{"s":"B30b","t":0.1238,"i":0.0337},{"s":"B30b","t":0.1267,"i":0.0376},{"s":"B30b","t":0.13,"i":0.0435},
{"s":"S30a","t":0.06,"i":0},{"s":"S30a","t":0.0716,"i":0},{"s":"S30a","t":0.0725,"i":0.012},{"s":"S30a","t":0.0735,"i":0.0265},{"s":"S30a","t":0.0745,"i":0.04},{"s":"S30a","t":0.0755,"i":0.052},{"s":"S30a","t":0.0765,"i":0.0625},{"s":"S30a","t":0.0775,"i":0.072},{"s":"S30a","t":0.0785,"i":0.0815},{"s":"S30a","t":0.0795,"i":0.0905},{"s":"S30a","t":0.0805,"i":0.0975},{"s":"S30a","t":0.0815,"i":0.1035},{"s":"S30a","t":0.0825,"i":0.109},{"s":"S30a","t":0.0835,"i":0.1132},{"s":"S30a","t":0.0845,"i":0.1165},{"s":"S30a","t":0.0855,"i":0.1188},{"s":"S30a","t":0.0865,"i":0.12},{"s":"S30a","t":0.0875,"i":0.1205},{"s":"S30a","t":0.0885,"i":0.1206},{"s":"S30a","t":0.0895,"i":0.1203},{"s":"S30a","t":0.0905,"i":0.1195},{"s":"S30a","t":0.0915,"i":0.118},{"s":"S30a","t":0.0925,"i":0.116},{"s":"S30a","t":0.0935,"i":0.1135},{"s":"S30a","t":0.0945,"i":0.1105},{"s":"S30a","t":0.0955,"i":0.1072},{"s":"S30a","t":0.0965,"i":0.1037},{"s":"S30a","t":0.098,"i":0.0985},{"s":"S30a","t":0.1,"i":0.093},{"s":"S30a","t":0.102,"i":0.0855},{"s":"S30a","t":0.104,"i":0.078},{"s":"S30a","t":0.106,"i":0.0703},{"s":"S30a","t":0.108,"i":0.0622},{"s":"S30a","t":0.11,"i":0.054},{"s":"S30a","t":0.112,"i":0.0482},{"s":"S30a","t":0.1136,"i":0.044},{"s":"S30a","t":0.1158,"i":0.0389},{"s":"S30a","t":0.118,"i":0.035},{"s":"S30a","t":0.12,"i":0.0324},{"s":"S30a","t":0.1217,"i":0.032},{"s":"S30a","t":0.1238,"i":0.0348},{"s":"S30a","t":0.1267,"i":0.0402},{"s":"S30a","t":0.13,"i":0.0473},
{"s":"S30b","t":0.06,"i":0},{"s":"S30b","t":0.0719,"i":0},{"s":"S30b","t":0.0729,"i":0.013},{"s":"S30b","t":0.0739,"i":0.0265},{"s":"S30b","t":0.0749,"i":0.0385},{"s":"S30b","t":0.0759,"i":0.049},{"s":"S30b","t":0.0769,"i":0.059},{"s":"S30b","t":0.0779,"i":0.0685},{"s":"S30b","t":0.0789,"i":0.0772},{"s":"S30b","t":0.08,"i":0.0858},{"s":"S30b","t":0.081,"i":0.0925},{"s":"S30b","t":0.082,"i":0.0985},{"s":"S30b","t":0.083,"i":0.1035},{"s":"S30b","t":0.084,"i":0.1078},{"s":"S30b","t":0.085,"i":0.1112},{"s":"S30b","t":0.086,"i":0.1138},{"s":"S30b","t":0.087,"i":0.1157},{"s":"S30b","t":0.088,"i":0.117},{"s":"S30b","t":0.089,"i":0.1176},{"s":"S30b","t":0.09,"i":0.1177},{"s":"S30b","t":0.091,"i":0.1173},{"s":"S30b","t":0.092,"i":0.1163},{"s":"S30b","t":0.093,"i":0.1145},{"s":"S30b","t":0.094,"i":0.112},{"s":"S30b","t":0.095,"i":0.109},{"s":"S30b","t":0.096,"i":0.1058},{"s":"S30b","t":0.098,"i":0.0995},{"s":"S30b","t":0.1,"i":0.0935},{"s":"S30b","t":0.102,"i":0.0862},{"s":"S30b","t":0.104,"i":0.0787},{"s":"S30b","t":0.106,"i":0.0712},{"s":"S30b","t":0.108,"i":0.0633},{"s":"S30b","t":0.11,"i":0.0555},{"s":"S30b","t":0.112,"i":0.0497},{"s":"S30b","t":0.1136,"i":0.0454},{"s":"S30b","t":0.1158,"i":0.0406},{"s":"S30b","t":0.118,"i":0.036},{"s":"S30b","t":0.12,"i":0.0332},{"s":"S30b","t":0.1217,"i":0.033},{"s":"S30b","t":0.1238,"i":0.0352},{"s":"S30b","t":0.1267,"i":0.04},{"s":"S30b","t":0.13,"i":0.046}
]
},
"encoding": {
"x": {"field": "t", "type": "quantitative", "scale": {"domain": [0.06, 0.13], "nice": false, "zero": false},
  "axis": {"title": "Time [s]", "values": [0.06, 0.07, 0.08, 0.09, 0.1, 0.11, 0.12, 0.13], "labelExpr": "'' + datum.value", "labelFontSize": 26, "labelPadding": 22, "labelColor": "black", "labelFlush": false, "labelOverlap": false, "ticks": false, "tickSize": 0, "domain": false, "grid": true, "gridColor": "#c0c0c0", "gridWidth": 3, "gridOpacity": {"condition": {"test": "datum.value < 0.0605 || datum.value > 0.1295", "value": 0}, "value": 1}, "titleFontSize": 33, "titleFontWeight": "bold", "titleColor": "black", "titleX": 804, "titleY": 70, "titleBaseline": "middle", "titleAlign": "center"}},
"color": {"field": "s", "type": "nominal", "scale": {"domain": ["B30a", "B30b", "S30a", "S30b"], "range": ["#333333", "#ff0000", "#0000ff", "#00ff00"]},
  "legend": {"title": "Test 10, 16 shells 15.5 cm", "orient": "none", "legendX": 1270, "legendY": 16, "symbolType": "stroke", "symbolSize": 9604, "symbolStrokeWidth": 4, "symbolOpacity": 1, "clipHeight": 20, "rowPadding": 3.7, "titlePadding": 4.5, "padding": 17, "symbolOffset": 0, "labelOffset": 12, "labelFontSize": 22, "labelLimit": 200, "labelColor": "black", "titleFontSize": 21.5, "titleLimit": 500, "titleFontWeight": "normal", "titleColor": "black", "titleAnchor": "middle", "titleAlign": "center", "strokeColor": "black", "fillColor": "white"}}
},
"layer": [
{"data": {"name": "pressure"}, "mark": {"type": "line", "strokeWidth": 3.5, "clip": true},
 "encoding": {"y": {"field": "p", "type": "quantitative", "scale": {"domain": [-5, 20], "nice": false, "zero": false},
  "axis": {"orient": "left", "title": "Pressure [kPa]", "values": [-5, 0, 5, 10, 15, 20], "labelExpr": "'' + datum.value", "labelFontSize": 26, "labelPadding": 13, "labelColor": "black", "labelFlush": false, "ticks": false, "tickSize": 0, "domain": false, "grid": true, "gridColor": "#c0c0c0", "gridWidth": 3, "gridOpacity": {"condition": {"test": "datum.value < -4.9 || datum.value > 19.9", "value": 0}, "value": 1}, "titleFontSize": 33.5, "titleFontWeight": "bold", "titleColor": "black", "titleX": -81, "titleY": 291, "titleAngle": 270, "titleBaseline": "middle", "titleAlign": "center"}}}},
{"data": {"name": "impulse"}, "mark": {"type": "line", "strokeWidth": 6, "opacity": 0.7, "clip": true},
 "encoding": {"y": {"field": "i", "type": "quantitative", "scale": {"domain": [-0.05, 0.2], "nice": false, "zero": false},
  "axis": {"orient": "right", "title": "Impulse Density [kPa s]", "values": [-0.05, 0, 0.05, 0.1, 0.15, 0.2], "labelExpr": "'' + datum.value", "labelFontSize": 26, "labelPadding": 15, "labelColor": "black", "labelFlush": false, "ticks": false, "tickSize": 0, "domain": false, "grid": false, "titleFontSize": 37, "titleFontWeight": "bold", "titleColor": "black", "titleX": 74, "titleY": 337, "titleAngle": 270, "titleBaseline": "middle", "titleAlign": "center"}}}}
],
"resolve": {"scale": {"y": "independent"}},
"config": {"font": "Liberation Sans", "view": {"stroke": "black", "strokeWidth": 5}, "legend": {"strokeWidth": 4}}
}
